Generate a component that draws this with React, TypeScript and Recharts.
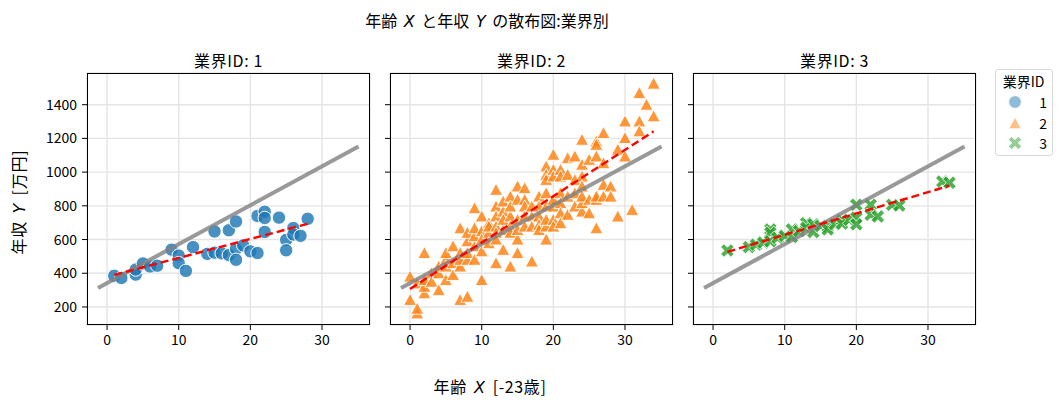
import React from 'react';
import { ScatterChart, Scatter, XAxis, YAxis, CartesianGrid } from 'recharts';

// ---------- data ----------
const X_TICKS = [0, 10, 20, 30];
const Y_TICKS = [200, 400, 600, 800, 1000, 1200, 1400];
const X_DOMAIN = [-2.8, 36.7];
const Y_DOMAIN = [93, 1588];

// industry 1: [age, income]
const group1: number[][] = [
  [1, 385], [2, 372], [4, 392], [4, 422], [5, 458], [6, 440], [7, 445], [9, 540],
  [10, 505], [10, 460], [11, 414], [12, 555], [14, 515], [15, 648], [15, 522],
  [16, 518], [17, 655], [17, 508], [18, 707], [18, 545], [18, 480], [19, 565],
  [20, 530], [21, 520], [21, 740], [22, 765], [22, 728], [22, 645], [24, 730],
  [25, 598], [25, 536], [26, 668], [26, 630], [27, 622], [28, 723],
];

// industry 2: [age, [incomes]]
const group2: [number, number[]][] = [
  [0, [380, 242]],
  [1, [162, 190, 340]],
  [2, [520, 281, 320, 360]],
  [3, [400, 350]],
  [4, [300, 400, 440]],
  [5, [360, 480, 440, 520]],
  [6, [560, 390, 460]],
  [7, [667, 242, 440, 520, 480]],
  [8, [261, 480, 520, 590, 640]],
  [9, [786, 480, 560, 620, 667]],
  [10, [737, 360, 650, 600, 530]],
  [11, [697, 640, 578, 677]],
  [12, [895, 460, 796, 737, 677, 640, 600]],
  [13, [766, 826, 657, 539, 717]],
  [14, [855, 440, 737, 677, 640, 796]],
  [15, [915, 520, 600, 836, 717, 657]],
  [16, [905, 836, 796, 737, 677]],
  [17, [470, 737, 677, 796]],
  [18, [855, 796, 737, 687, 657]],
  [19, [1034, 984, 954, 600, 677, 717, 796, 875]],
  [20, [1103, 1014, 974, 717, 677, 796, 836]],
  [21, [1014, 974, 875, 816, 756, 697]],
  [22, [1083, 984, 747, 855]],
  [23, [1093, 796, 875, 954]],
  [24, [1192, 1044, 974, 915, 766, 816, 855]],
  [25, [1073, 756, 836]],
  [26, [1182, 1162, 1093, 667, 836, 855]],
  [27, [1232, 1053, 925, 855]],
  [28, [915, 855]],
  [29, [737, 1133]],
  [30, [1301, 1202, 1093]],
  [31, [776]],
  [32, [1469, 1301, 1242]],
  [33, [1400]],
  [34, [1525, 1331]],
];

// industry 3: [age, income]
const group3: number[][] = [
  [2, 535], [5, 555], [6, 570], [7, 582], [8, 660], [8, 640], [8, 590], [9, 610],
  [10, 622], [11, 660], [11, 615], [12, 650], [13, 697], [13, 670], [14, 645],
  [14, 690], [15, 680], [16, 677], [16, 660], [17, 690], [18, 715], [18, 695],
  [19, 717], [20, 806], [20, 730], [20, 690], [22, 806], [22, 747], [23, 737],
  [25, 806], [26, 802], [32, 944], [33, 937],
];

// regression line end points
const overallFit = [{ x: -1.26, y: 313 }, { x: 35.1, y: 1152 }];
const fit1 = [{ x: 1, y: 390 }, { x: 28, y: 693 }];
const fit2 = [{ x: 0, y: 307 }, { x: 34, y: 1242 }];
const fit3 = [{ x: 2, y: 527 }, { x: 33, y: 919 }];

const pts1 = group1.map(([x, y]) => ({ x, y }));
const pts2 = group2.flatMap(([x, ys]) => ys.map((y) => ({ x, y })));
const pts3 = group3.map(([x, y]) => ({ x, y }));

// ---------- styling ----------
const FONT = '"Noto Sans CJK JP", "Noto Sans", sans-serif';
const MATH = '"DejaVu Sans", sans-serif';
const PLOT_W = 283;
const PLOT_H = 252;
const PLOT_TOP = 73;
const ML = 70;

const BLUE = '#1f77b4';
const ORANGE = '#ff7f0e';
const GREEN = '#2ca02c';

const Empty = () => <g />;

const CircleShape = (p: any) => (
  <circle cx={p.cx} cy={p.cy} r={6.7} fill={BLUE} fillOpacity={0.82} stroke="#fff" strokeWidth={1} />
);

const triPath = (cx: number, cy: number, s: number) =>
  `M${cx},${cy - s} L${cx + s},${cy + s * 0.85} L${cx - s},${cy + s * 0.85} Z`;

const TriShape = (p: any) => (
  <path d={triPath(p.cx, p.cy, 6.5)} fill={ORANGE} fillOpacity={0.82} stroke="#fff" strokeWidth={0.9} />
);

const xPath = (cx: number, cy: number, L: number, w: number) => {
  const base = [
    [w, w], [w, L], [-w, L], [-w, w], [-L, w], [-L, -w],
    [-w, -w], [-w, -L], [w, -L], [w, -w], [L, -w], [L, w],
  ];
  const c = Math.SQRT1_2;
  return (
    base
      .map(([a, b], i) => {
        const rx = (a - b) * c;
        const ry = (a + b) * c;
        return `${i === 0 ? 'M' : 'L'}${cx + rx},${cy + ry}`;
      })
      .join(' ') + ' Z'
  );
};

const XShape = (p: any) => (
  <path d={xPath(p.cx, p.cy, 7.2, 2.3)} fill={GREEN} fillOpacity={0.82} stroke="#fff" strokeWidth={0.8} />
);

const tickStyle = { fill: '#000', fontSize: 14, fontFamily: FONT };

function Panel({
  plotLeft,
  title,
  points,
  shape,
  fit,
  showYLabels,
}: {
  plotLeft: number;
  title: string;
  points: { x: number; y: number }[];
  shape: any;
  fit: { x: number; y: number }[];
  showYLabels: boolean;
}) {
  const width = PLOT_W + ML + 5;
  return (
    <div style={{ position: 'absolute', left: plotLeft - ML, top: 0, width, height: 407 }}>
      <ScatterChart width={width} height={407} margin={{ top: PLOT_TOP, right: 5, bottom: 52, left: 0 }}>
        <CartesianGrid stroke="#e4e4e4" strokeWidth={1.4} />
        <XAxis
          type="number"
          dataKey="x"
          domain={X_DOMAIN}
          ticks={X_TICKS}
          allowDataOverflow
          interval={0}
          height={30}
          tickSize={5}
          tickMargin={5}
          axisLine={false}
          tickLine={{ stroke: '#000' }}
          tick={tickStyle}
        />
        <YAxis
          type="number"
          dataKey="y"
          domain={Y_DOMAIN}
          ticks={Y_TICKS}
          allowDataOverflow
          interval={0}
          width={ML}
          tickSize={5}
          tickMargin={5}
          axisLine={false}
          tickLine={{ stroke: '#000' }}
          tick={tickStyle}
          tickFormatter={(v: number) => (showYLabels ? String(v) : '')}
        />
        <Scatter data={points} shape={shape} isAnimationActive={false} />
        <Scatter
          data={overallFit}
          shape={Empty}
          line={{ stroke: '#808080', strokeWidth: 4, strokeOpacity: 0.8 }}
          isAnimationActive={false}
        />
        <Scatter
          data={fit}
          shape={Empty}
          line={{ stroke: '#ff0000', strokeWidth: 2.4, strokeDasharray: '8 4' }}
          isAnimationActive={false}
        />
      </ScatterChart>
      <div
        style={{
          position: 'absolute',
          left: ML,
          top: PLOT_TOP,
          width: PLOT_W,
          height: PLOT_H,
          border: '1px solid #000',
          boxSizing: 'border-box',
          pointerEvents: 'none',
        }}
      />
      <div
        style={{
          position: 'absolute',
          left: ML + PLOT_W / 2,
          top: 60,
          transform: 'translate(-50%, -50%)',
          fontFamily: FONT,
          fontSize: 16,
          letterSpacing: 0.6,
          whiteSpace: 'nowrap',
          color: '#000',
        }}
      >
        {title}
      </div>
    </div>
  );
}

const legendItems = [
  { label: '1', kind: 'circle' },
  { label: '2', kind: 'tri' },
  { label: '3', kind: 'x' },
];

function LegendMarker({ kind }: { kind: string }) {
  return (
    <svg width={18} height={18} style={{ display: 'block' }}>
      {kind === 'circle' && <circle cx={9} cy={9} r={6.3} fill={BLUE} fillOpacity={0.5} stroke="#fff" strokeWidth={0.8} />}
      {kind === 'tri' && <path d={triPath(9, 9.5, 6.2)} fill={ORANGE} fillOpacity={0.5} stroke="#fff" strokeWidth={0.8} />}
      {kind === 'x' && <path d={xPath(9, 9, 7, 2.3)} fill={GREEN} fillOpacity={0.5} stroke="#fff" strokeWidth={0.8} />}
    </svg>
  );
}

function LegendBox() {
  const rowsY = [101.7, 122.7, 142.7];
  return (
    <>
      <div
        style={{
          position: 'absolute',
          left: 995,
          top: 69,
          width: 58,
          height: 87,
          border: '1px solid #d8d8d8',
          borderRadius: 3,
          boxSizing: 'border-box',
          background: 'rgba(255,255,255,0.8)',
        }}
      />
      <div
        style={{
          position: 'absolute',
          left: 1023.5,
          top: 81,
          transform: 'translate(-50%, -50%)',
          fontFamily: FONT,
          fontSize: 14,
          whiteSpace: 'nowrap',
        }}
      >
        業界ID
      </div>
      {legendItems.map((it, i) => (
        <React.Fragment key={it.label}>
          <div style={{ position: 'absolute', left: 1015 - 9, top: rowsY[i] - 9 }}>
            <LegendMarker kind={it.kind} />
          </div>
          <div
            style={{
              position: 'absolute',
              right: 1063 - 1047,
              top: rowsY[i],
              transform: 'translateY(-50%)',
              fontFamily: FONT,
              fontSize: 14,
            }}
          >
            {it.label}
          </div>
        </React.Fragment>
      ))}
    </>
  );
}

const mathStyle: React.CSSProperties = { fontFamily: MATH, fontStyle: 'italic', margin: '0 3px' };

export default function App() {
  return (
    <div
      style={{
        position: 'absolute',
        left: 0,
        top: 0,
        width: 1063,
        height: 407,
        background: '#fff',
        overflow: 'hidden',
        fontFamily: FONT,
        color: '#000',
      }}
    >
      <div
        style={{
          position: 'absolute',
          left: 487,
          top: 20,
          transform: 'translate(-50%, -50%)',
          fontSize: 16,
          whiteSpace: 'nowrap',
        }}
      >
        年齢 <span style={mathStyle}>X</span> と年収 <span style={mathStyle}>Y</span> の散布図:業界別
      </div>

      <Panel plotLeft={87} title="業界ID: 1" points={pts1} shape={CircleShape} fit={fit1} showYLabels />
      <Panel plotLeft={390} title="業界ID: 2" points={pts2} shape={TriShape} fit={fit2} showYLabels={false} />
      <Panel plotLeft={693} title="業界ID: 3" points={pts3} shape={XShape} fit={fit3} showYLabels={false} />

      <div
        style={{
          position: 'absolute',
          left: 18,
          top: 202,
          transform: 'translate(-50%, -50%) rotate(-90deg)',
          fontSize: 16,
          letterSpacing: 0.8,
          whiteSpace: 'nowrap',
        }}
      >
        年収 <span style={mathStyle}>Y</span> [万円]
      </div>

      <div
        style={{
          position: 'absolute',
          left: 490,
          top: 386,
          transform: 'translate(-50%, -50%)',
          fontSize: 16,
          letterSpacing: 0.6,
          whiteSpace: 'nowrap',
        }}
      >
        年齢 <span style={mathStyle}>X</span> [-23歳]
      </div>

      <LegendBox />
    </div>
  );
}
